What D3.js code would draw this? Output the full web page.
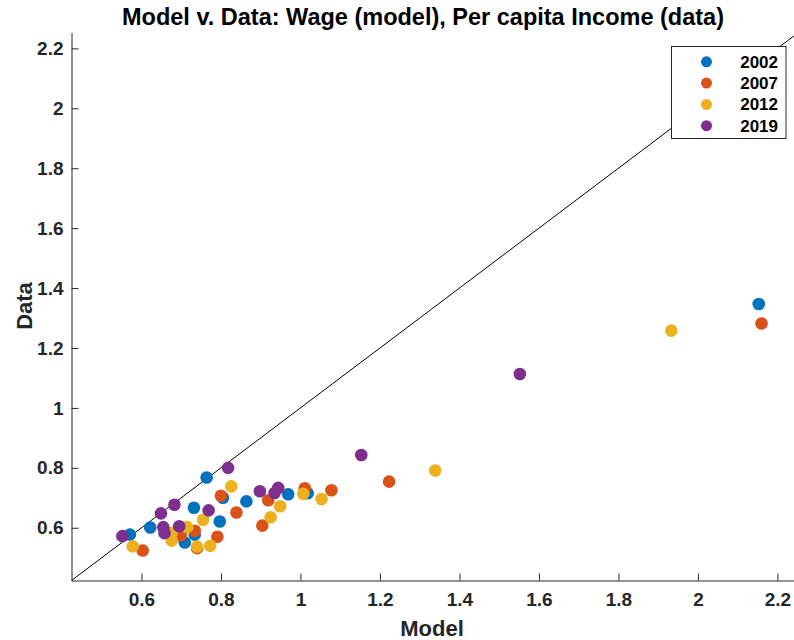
<!DOCTYPE html>
<html>
<head>
<meta charset="utf-8">
<script src="https://cdn.jsdelivr.net/npm/d3@7"></script>
<style>
  body { margin: 0; background: #fff; }
  svg { display: block; font-family: 'Liberation Sans', Helvetica, Arial, sans-serif; }
</style>
</head>
<body>
<div id="chart"></div>
<script>
const YEARS = ['2002', '2007', '2012', '2019']
const COLORS = ['#0072BD', '#D95319', '#EDB120', '#7E2F8E']

const MODEL_2002 = [0.764, 0.805, 0.732, 0.797, 0.622, 0.734, 0.571, 0.709, 0.864, 0.969, 1.018, 2.153]
const DATA_2002 = [0.768, 0.700, 0.667, 0.621, 0.601, 0.577, 0.577, 0.551, 0.688, 0.712, 0.715, 1.347]

const MODEL_2007 = [0.800, 0.734, 0.699, 0.603, 0.740, 0.791, 0.919, 1.011, 1.078, 0.839, 0.904, 1.223, 2.160]
const DATA_2007 = [0.707, 0.590, 0.575, 0.524, 0.532, 0.570, 0.692, 0.732, 0.725, 0.651, 0.607, 0.754, 1.282]

const MODEL_2012 = [0.826, 0.755, 0.676, 0.715, 0.676, 0.578, 0.740, 0.773, 1.007, 1.053, 0.949, 0.925, 1.339, 1.933]
const DATA_2012 = [0.738, 0.627, 0.583, 0.602, 0.557, 0.538, 0.537, 0.540, 0.713, 0.696, 0.672, 0.635, 0.791, 1.258]

const MODEL_2019 = [0.818, 0.683, 0.649, 0.769, 0.655, 0.658, 0.695, 0.552, 1.153, 0.898, 0.944, 0.935, 1.552]
const DATA_2019 = [0.800, 0.677, 0.648, 0.658, 0.602, 0.582, 0.605, 0.572, 0.843, 0.722, 0.733, 0.716, 1.113]

const TICKS = [0.6, 0.8, 1, 1.2, 1.4, 1.6, 1.8, 2, 2.2]
const LIMITS = [0.424, 2.253]

const series = [
  [MODEL_2002, DATA_2002],
  [MODEL_2007, DATA_2007],
  [MODEL_2012, DATA_2012],
  [MODEL_2019, DATA_2019],
].map(([mx, dy], i) => ({
  year: YEARS[i],
  color: COLORS[i],
  points: mx.map((m, j) => ({ model: m, data: dy[j] })),
}))

const width = 794
const height = 640
const margin = { top: 32.5, right: -4.5, bottom: 59.5, left: 71.5 }
const AXIS_COLOR = '#262626'
const FONT = "'Liberation Sans', Helvetica, Arial, sans-serif"

const x = d3.scaleLinear().domain(LIMITS).range([margin.left, width - margin.right])
const y = d3.scaleLinear().domain(LIMITS).range([height - margin.bottom, margin.top])

const svg = d3
  .select('#chart')
  .append('svg')
  .attr('width', width)
  .attr('height', height)

const fmt = d => String(+d.toFixed(1))

const styleAxis = g => {
  g.select('.domain').attr('stroke', AXIS_COLOR)
  g.selectAll('.tick line').attr('stroke', AXIS_COLOR)
  g.selectAll('.tick text')
    .attr('fill', AXIS_COLOR)
    .style('font-size', '19px')
    .style('font-weight', 'bold')
    .style('font-family', FONT)
}

const xAxis = g =>
  g
    .attr('transform', `translate(0,${y.range()[0]})`)
    .call(d3.axisBottom(x).tickValues(TICKS).tickFormat(fmt).tickSizeInner(-7).tickSizeOuter(0).tickPadding(12))
    .call(styleAxis)

const yAxis = g =>
  g
    .attr('transform', `translate(${x.range()[0]},0)`)
    .call(d3.axisLeft(y).tickValues(TICKS).tickFormat(fmt).tickSizeInner(-7).tickSizeOuter(0).tickPadding(8))
    .call(styleAxis)

svg.append('g').call(xAxis)
svg.append('g').call(yAxis)

// 45 degree line
svg
  .append('line')
  .attr('x1', x(LIMITS[0]))
  .attr('y1', y(LIMITS[0]))
  .attr('x2', x(LIMITS[1]))
  .attr('y2', y(LIMITS[1]))
  .attr('stroke', '#000')
  .attr('stroke-width', 1)

svg
  .append('g')
  .selectAll('g')
  .data(series)
  .join('g')
  .attr('fill', d => d.color)
  .selectAll('circle')
  .data(d => d.points)
  .join('circle')
  .attr('cx', d => x(d.model))
  .attr('cy', d => y(d.data))
  .attr('r', 6.3)

// title + labels
svg
  .append('text')
  .attr('x', 423)
  .attr('y', 25)
  .attr('text-anchor', 'middle')
  .style('font-size', '23.5px')
  .style('font-weight', 'bold')
  .attr('fill', '#000')
  .text('Model v. Data: Wage (model), Per capita Income (data)')

svg
  .append('text')
  .attr('x', 432)
  .attr('y', 636)
  .attr('text-anchor', 'middle')
  .style('font-size', '22px')
  .style('font-weight', 'bold')
  .attr('fill', AXIS_COLOR)
  .text('Model')

svg
  .append('text')
  .attr('transform', 'translate(32,306) rotate(-90)')
  .attr('text-anchor', 'middle')
  .style('font-size', '22px')
  .style('font-weight', 'bold')
  .attr('fill', AXIS_COLOR)
  .text('Data')

// legend
const legend = svg.append('g').attr('transform', 'translate(671.5,46.5)')

legend
  .append('rect')
  .attr('width', 114.5)
  .attr('height', 92)
  .attr('fill', '#fff')
  .attr('stroke', AXIS_COLOR)
  .attr('stroke-width', 1)

const item = legend
  .selectAll('.item')
  .data(series)
  .join('g')
  .attr('class', 'item')
  .attr('transform', (d, i) => `translate(0,${15.3 + i * 21.3})`)

item
  .append('circle')
  .attr('cx', 35)
  .attr('cy', 0)
  .attr('r', 5.5)
  .attr('fill', d => d.color)

item
  .append('text')
  .attr('x', 106.5)
  .attr('y', 6)
  .attr('text-anchor', 'end')
  .style('font-size', '17px')
  .style('font-weight', 'bold')
  .attr('fill', '#000')
  .text(d => d.year)
</script>
</body>
</html>
